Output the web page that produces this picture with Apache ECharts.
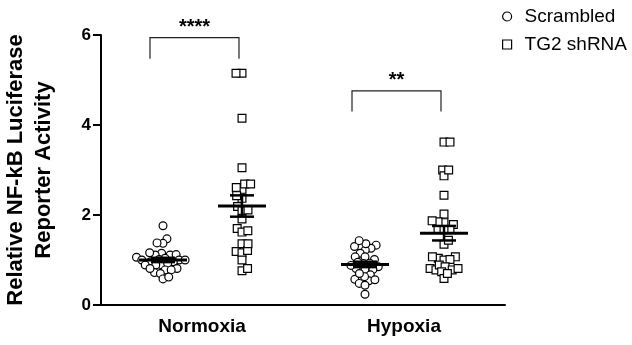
<!DOCTYPE html>
<html>
<head>
<meta charset="utf-8">
<script src="https://cdn.jsdelivr.net/npm/echarts@6/dist/echarts.min.js"></script>
<style>html,body{margin:0;padding:0;background:#fff}#c{width:632px;height:345px}</style>
</head>
<body>
<div id="c"></div>
<script>
const categories = ['Normoxia', 'Hypoxia'];
const seriesNames = ['Scrambled', 'TG2 shRNA'];
const yTicks = [0, 2, 4, 6];
const normoxiaScrambled = [1.76, 1.47, 1.37, 1.38, 1.11, 1.15, 1.11, 1.12, 1.16, 1.06, 1.0, 0.96, 1.04, 1.0, 1.01, 0.96, 1.0, 0.89, 0.89, 0.89, 0.92, 0.78, 0.72, 0.81, 0.81, 0.70, 0.78, 0.58, 0.62];
const normoxiaTG2 = [5.15, 5.15, 4.15, 3.05, 2.57, 2.69, 2.69, 2.61, 2.37, 2.43, 2.19, 2.10, 2.11, 1.91, 1.70, 1.62, 1.65, 1.36, 1.19, 1.16, 1.21, 1.36, 1.0, 0.76, 0.81];
const hypoxiaScrambled = [1.33, 1.30, 1.26, 1.22, 1.30, 1.36, 1.43, 1.15, 1.07, 1.07, 1.01, 0.81, 0.79, 0.85, 0.79, 0.67, 0.57, 0.54, 0.56, 0.63, 0.70, 0.48, 0.44, 0.24, 0.93, 0.92, 0.88, 0.95];
const hypoxiaTG2 = [3.62, 3.62, 3.0, 2.87, 3.0, 2.44, 2.02, 1.83, 1.79, 1.85, 1.87, 1.68, 1.68, 1.67, 1.35, 1.44, 1.07, 1.04, 1.0, 1.01, 1.07, 0.81, 0.78, 0.89, 0.85, 0.74, 0.78, 0.81, 0.59, 0.70];
const sigLabels = ['****', '**'];
const sigTop = [5.94, 4.76];
const sigBottom = [5.47, 4.30];

const groups = [
  {cat: 0, s: 0, vals: normoxiaScrambled},
  {cat: 0, s: 1, vals: normoxiaTG2},
  {cat: 1, s: 0, vals: hypoxiaScrambled},
  {cat: 1, s: 1, vals: hypoxiaTG2}
];

const W = 632, H = 345;
const grid = {left: 101, right: 127, top: 35, bottom: 40, containLabel: false, outerBoundsMode: 'none'};
const pxPerUnit = (H - grid.top - grid.bottom) / (yTicks[yTicks.length - 1] - yTicks[0]);
const dodge = [-39, 40];
const DIAM = 6;

function swarm(values, diam) {
  const order = values.map((v, i) => i).sort((a, b) => values[a] - values[b]);
  const placed = [];
  const offs = new Array(values.length);
  order.forEach((i, k) => {
    const y = values[i] * pxPerUnit;
    const cands = [0];
    placed.forEach(p => {
      const dy = Math.abs(p.y - y);
      if (dy < diam) {
        const dx = Math.sqrt(diam * diam - dy * dy);
        cands.push(p.x + dx, p.x - dx);
      }
    });
    const sgn = k % 2 ? 1 : -1;
    cands.sort((a, b) => (Math.abs(a) - Math.abs(b)) || (sgn * (b - a)));
    let best = 0;
    for (const c of cands) {
      if (placed.every(p => (p.x - c) ** 2 + (p.y - y) ** 2 >= diam * diam - 1e-6)) { best = c; break; }
    }
    placed.push({x: best, y});
    offs[i] = best;
  });
  return offs;
}

function stats(v) {
  const n = v.length;
  const m = v.reduce((a, b) => a + b, 0) / n;
  const sd = Math.sqrt(v.reduce((a, b) => a + (b - m) ** 2, 0) / (n - 1));
  return [m, sd / Math.sqrt(n)];
}

const pointData = [[], []];
const meanData = [];
groups.forEach(g => {
  const offs = swarm(g.vals, DIAM);
  g.vals.forEach((v, i) => pointData[g.s].push([g.cat, v, dodge[g.s] + offs[i]]));
  const [m, se] = stats(g.vals);
  meanData.push([g.cat, m, se, dodge[g.s]]);
});
const sigData = categories.map((c, i) => [i, sigTop[i], sigBottom[i]]);

const R = 3.9;
function pointRender(shape) {
  return function (params, api) {
    const c = api.coord([api.value(0), api.value(1)]);
    const x = c[0] + api.value(2), y = c[1];
    const style = {fill: '#fff', stroke: '#000', lineWidth: 1.2};
    if (shape === 'circle') return {type: 'circle', shape: {cx: x, cy: y, r: R}, style};
    return {type: 'rect', shape: {x: x - R, y: y - R, width: 2 * R, height: 2 * R}, style};
  };
}

const font = '"Liberation Sans", Arial, sans-serif';
const option = {
  animation: false,
  grid: grid,
  legend: {
    orient: 'vertical', left: 497, top: 2, itemWidth: 9, itemHeight: 9, itemGap: 9,
    textStyle: {fontSize: 19, color: '#000', fontFamily: font, padding: [0, 0, 0, 8]},
    data: [
      {name: seriesNames[0], icon: 'circle', itemStyle: {color: '#fff', borderColor: '#000', borderWidth: 1.2}},
      {name: seriesNames[1], icon: 'rect', itemStyle: {color: '#fff', borderColor: '#000', borderWidth: 1.2}}
    ]
  },
  xAxis: {
    type: 'category', data: categories, boundaryGap: true,
    axisLine: {lineStyle: {color: '#000', width: 2}},
    axisTick: {alignWithLabel: true, length: 8, lineStyle: {color: '#000', width: 2}},
    axisLabel: {fontSize: 19, fontWeight: 'bold', color: '#000', fontFamily: font, margin: 12},
    splitLine: {show: false}
  },
  yAxis: {
    type: 'value', min: yTicks[0], max: yTicks[yTicks.length - 1], interval: 2,
    name: 'Relative NF-kB Luciferase\nReporter Activity', nameLocation: 'middle', nameRotate: 90, nameGap: 43,
    nameTextStyle: {fontSize: 22, fontWeight: 'bold', color: '#000', fontFamily: font, lineHeight: 28},
    axisLine: {show: true, lineStyle: {color: '#000', width: 2}},
    axisTick: {show: true, length: 8, lineStyle: {color: '#000', width: 2}},
    axisLabel: {fontSize: 17, fontWeight: 'bold', color: '#000', fontFamily: font, margin: 10},
    splitLine: {show: false}
  },
  series: [
    {name: seriesNames[0], type: 'custom', data: pointData[0], renderItem: pointRender('circle'),
     itemStyle: {color: '#fff', borderColor: '#000'}, z: 2},
    {name: seriesNames[1], type: 'custom', data: pointData[1], renderItem: pointRender('rect'),
     itemStyle: {color: '#fff', borderColor: '#000'}, z: 2},
    {type: 'custom', data: meanData, z: 3,
     renderItem: function (params, api) {
       const c = api.coord([api.value(0), api.value(1)]);
       const cx = c[0] + api.value(3);
       const up = api.coord([api.value(0), api.value(1) + api.value(2)])[1];
       const dn = api.coord([api.value(0), api.value(1) - api.value(2)])[1];
       const st = {stroke: '#000', lineWidth: 3};
       return {type: 'group', children: [
         {type: 'line', shape: {x1: cx - 24, y1: c[1], x2: cx + 24, y2: c[1]}, style: st},
         {type: 'line', shape: {x1: cx, y1: up, x2: cx, y2: dn}, style: {stroke: '#000', lineWidth: 2.5}},
         {type: 'line', shape: {x1: cx - 12, y1: up, x2: cx + 12, y2: up}, style: {stroke: '#000', lineWidth: 2.5}},
         {type: 'line', shape: {x1: cx - 12, y1: dn, x2: cx + 12, y2: dn}, style: {stroke: '#000', lineWidth: 2.5}}
       ]};
     }},
    {type: 'custom', data: sigData, z: 3,
     renderItem: function (params, api) {
       const top = api.coord([api.value(0), api.value(1)]);
       const bot = api.coord([api.value(0), api.value(2)])[1];
       const x1 = top[0] - 52, x2 = top[0] + 37;
       return {type: 'group', children: [
         {type: 'polyline', shape: {points: [[x1, bot], [x1, top[1]], [x2, top[1]], [x2, bot]]},
          style: {stroke: '#222', lineWidth: 1.2, fill: null}},
         {type: 'text', x: (x1 + x2) / 2, y: top[1] - 10,
          style: {text: sigLabels[params.dataIndex], fontSize: 20, fontWeight: 'bold', fill: '#000',
                  fontFamily: font, align: 'center', verticalAlign: 'middle'}}
       ]};
     }}
  ]
};
const chart = echarts.init(document.getElementById('c'), null, {renderer: 'canvas'});
chart.setOption(option);
</script>
</body>
</html>
